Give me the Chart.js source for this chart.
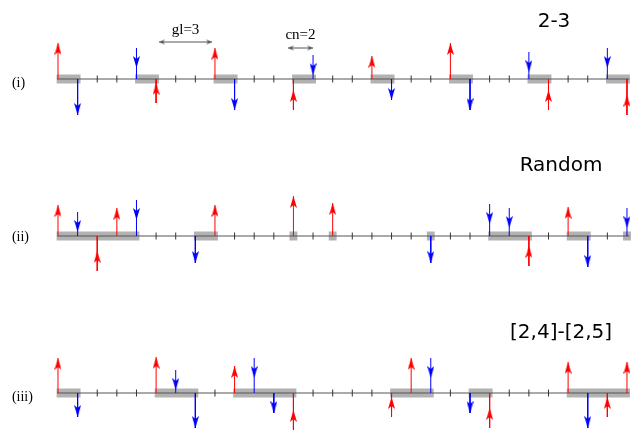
<!DOCTYPE html>
<html>
<head>
<meta charset="utf-8">
<script src="https://cdn.jsdelivr.net/npm/chart.js@4.4.1/dist/chart.umd.min.js"></script>
<style>
  html, body { margin: 0; padding: 0; background: #fff; }
</style>
</head>
<body>
<canvas id="gapChart" width="633" height="430"></canvas>
<script>
// =========================
// data: 30 sites per row, gray blocks [first, last], arrows [site, height] (+ above, - below)
// =========================
const rowLabels = ['(i)', '(ii)', '(iii)'];
const rowTitles = ['2-3', 'Random', '[2,4]-[2,5]'];
const rowBase = [0, -157, -314];
const nSites = 30;

const boxesI = [[0, 1], [4, 5], [8, 9], [12, 13], [16, 17], [20, 21], [24, 25], [28, 29]];
const redI = [[0, 36], [5, -24], [8, 31], [12, -31], [16, 23], [20, 36], [25, -31], [29, -36]];
const blueI = [[1, -36], [4, 31], [9, -31], [13, 24], [17, -21], [21, -31], [24, 27], [28, 31]];

const boxesII = [[0, 4], [7, 8], [12, 12], [14, 14], [19, 19], [22, 24], [26, 27], [29, 29]];
const redII = [[0, 31], [2, -35], [3, 28], [8, 31], [12, 40], [14, 33], [24, -30], [26, 29]];
const blueII = [[1, 24], [4, 36], [7, -27], [19, -27], [22, 32], [23, 28], [27, -31], [29, 28]];

const boxesIII = [[0, 1], [5, 7], [9, 12], [17, 19], [21, 22], [26, 29]];
const redIII = [[0, 35], [5, 36], [9, 27], [12, -37], [17, -24], [18, 35], [22, -35], [26, 31], [28, -24], [29, 31]];
const blueIII = [[1, -24], [6, 23], [7, -35], [10, 35], [11, -20], [19, 35], [21, -20], [27, -35]];

// annotation on row (i): [label, from, to]
const spanNotes = [['gl=3', 5.15, 7.85], ['cn=2', 11.72, 13.0]];

const rows = [
    { boxes: boxesI, red: redI, blue: blueI },
    { boxes: boxesII, red: redII, blue: blueII },
    { boxes: boxesIII, red: redIII, blue: blueIII }
];

const RED = '#ff0000';
const BLUE = '#0000ff';

// arrowhead images, tip at the centre of the canvas
function headImage(color, dir) {
    let c = document.createElement('canvas');
    c.width = 7;
    c.height = 26;
    let g = c.getContext('2d');
    g.fillStyle = color;
    g.beginPath();
    if (dir === 'up') {
        g.moveTo(3.5, 13); g.lineTo(7, 25); g.lineTo(3.5, 22); g.lineTo(0, 25);
    } else {
        g.moveTo(3.5, 13); g.lineTo(7, 1); g.lineTo(3.5, 4); g.lineTo(0, 1);
    }
    g.closePath();
    g.fill();
    return c;
}

function sideHead(dir) {
    let c = document.createElement('canvas');
    c.width = 14;
    c.height = 7;
    let g = c.getContext('2d');
    g.fillStyle = '#555';
    g.beginPath();
    if (dir === 'left') {
        g.moveTo(7, 3.5); g.lineTo(13, 1); g.lineTo(11, 3.5); g.lineTo(13, 6);
    } else {
        g.moveTo(7, 3.5); g.lineTo(1, 1); g.lineTo(3, 3.5); g.lineTo(1, 6);
    }
    g.closePath();
    g.fill();
    return c;
}

const redUp = headImage(RED, 'up');
const blueDown = headImage(BLUE, 'down');

let datasets = [];

rows.forEach(function (row, r) {
    let base = rowBase[r];

    // gray blocks
    datasets.push({
        data: row.boxes.flatMap(function (b) {
            let padL = b[0] === b[1] ? 0.2 : 0.07;
            let padR = b[0] === b[1] ? 0.2 : 0.15;
            return [{ x: b[0] - padL, y: base }, { x: b[1] + padR, y: base }, { x: b[1], y: null }];
        }),
        showLine: true,
        borderColor: '#b2b2b2',
        borderWidth: 9,
        borderCapStyle: 'butt',
        pointRadius: 0,
        order: 6
    });

    // axis line
    datasets.push({
        data: [{ x: -0.05, y: base }, { x: nSites - 1 + 0.12, y: base }],
        showLine: true,
        borderColor: '#555',
        borderWidth: 1,
        pointRadius: 0,
        order: 5
    });

    // ticks on free sites
    let ticks = [];
    for (let i = 0; i < nSites; i++) {
        let inBox = row.boxes.some(function (b) { return i >= b[0] && i <= b[1]; });
        if (!inBox) ticks.push({ x: i, y: base });
    }
    datasets.push({
        data: ticks,
        showLine: false,
        pointStyle: 'line',
        rotation: 90,
        pointRadius: 3.5,
        borderColor: '#333',
        borderWidth: 1,
        order: 4
    });

    // stems and heads
    [[row.red, RED, redUp, 1], [row.blue, BLUE, blueDown, -1]].forEach(function (s) {
        let arrows = s[0], color = s[1], img = s[2], up = s[3];
        datasets.push({
            data: arrows.flatMap(function (a) {
                return [{ x: a[0], y: base }, { x: a[0], y: base + a[1] }, { x: a[0], y: null }];
            }),
            showLine: true,
            borderColor: color,
            borderWidth: 1,
            pointRadius: 0,
            order: 3
        });
        datasets.push({
            data: arrows.map(function (a) {
                let end = base + a[1];
                // pointing away from the axis: tip at the end; towards it: head sits near the far end
                let away = (a[1] > 0) === (up > 0);
                return { x: a[0], y: away ? end : end + up * 20 };
            }),
            showLine: false,
            pointStyle: img,
            pointRadius: 5,
            order: 2
        });
    });
});

// double arrows for gl / cn
const noteY = [37, 31];
spanNotes.forEach(function (n, k) {
    datasets.push({
        data: [{ x: n[1], y: noteY[k] }, { x: n[2], y: noteY[k] }],
        showLine: true,
        borderColor: '#555',
        borderWidth: 1,
        pointStyle: [sideHead('left'), sideHead('right')],
        pointRadius: 5,
        order: 1
    });
});

const textPlugin = {
    id: 'texts',
    afterDatasetsDraw: function (chart) {
        let ctx = chart.ctx;
        let xs = chart.scales.x, ys = chart.scales.y;
        ctx.save();
        ctx.fillStyle = '#000';

        // row labels
        const labelDy = [-4.5, -1, -4];
        ctx.font = '14px "Liberation Serif", serif';
        ctx.textAlign = 'left';
        ctx.textBaseline = 'middle';
        rowLabels.forEach(function (t, r) {
            ctx.fillText(t, xs.getPixelForValue(-2.35), ys.getPixelForValue(rowBase[r] + labelDy[r]));
        });

        // titles
        const titleX = [25.28, 25.64, 25.64];
        const titleDy = [52, 65, 55];
        ctx.font = '20px "DejaVu Sans", sans-serif';
        ctx.textAlign = 'center';
        ctx.textBaseline = 'alphabetic';
        rowTitles.forEach(function (t, r) {
            ctx.fillText(t, xs.getPixelForValue(titleX[r]), ys.getPixelForValue(rowBase[r] + titleDy[r]));
        });

        // gl / cn labels
        const noteTextY = [45.5, 40];
        ctx.font = '15px "Liberation Serif", serif';
        spanNotes.forEach(function (n, k) {
            ctx.fillText(n[0], xs.getPixelForValue((n[1] + n[2]) / 2), ys.getPixelForValue(noteTextY[k]));
        });
        ctx.restore();
    }
};

let ctx = document.getElementById('gapChart').getContext('2d');
let gapChart = new Chart(ctx, {
    type: 'scatter',
    data: { datasets: datasets },
    options: {
        responsive: false,
        animation: false,
        layout: { padding: 0, autoPadding: false },
        plugins: {
            legend: { display: false },
            tooltip: { enabled: false }
        },
        elements: { line: { tension: 0 } },
        datasets: { scatter: { clip: false, spanGaps: false } },
        scales: {
            x: { type: 'linear', display: false, min: -2.956, max: 29.307 },
            y: { type: 'linear', display: false, min: -351, max: 79 }
        }
    },
    plugins: [textPlugin]
});
</script>
</body>
</html>
